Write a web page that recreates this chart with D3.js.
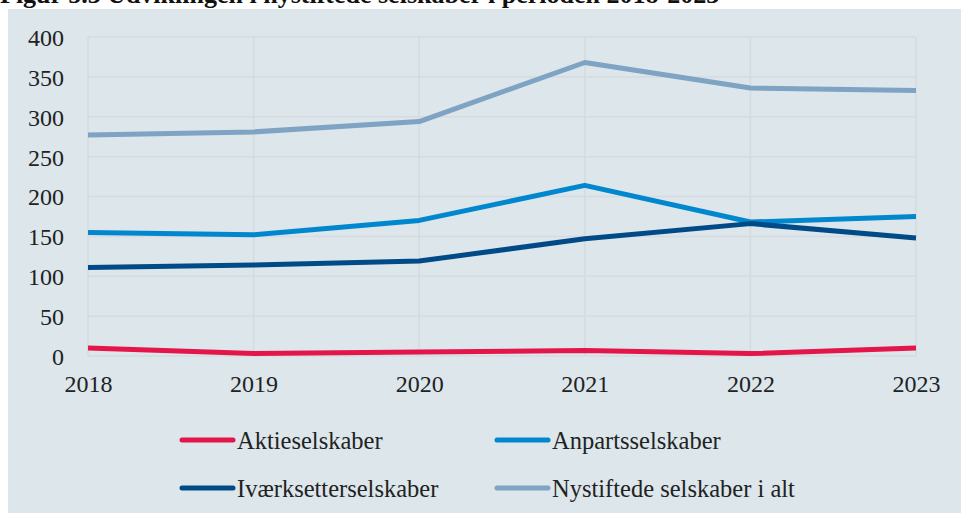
<!DOCTYPE html>
<html><head><meta charset="utf-8">
<script src="https://cdn.jsdelivr.net/npm/d3@7"></script>
<style>body{margin:0;background:#fff;}svg{display:block;}</style>
</head><body>
<svg id="c" width="961" height="514"></svg>
<script>
const years = ["2018","2019","2020","2021","2022","2023"];
const yTicks = [0,50,100,150,200,250,300,350,400];
const seriesNames = ["Aktieselskaber","Anpartsselskaber","Iværksetterselskaber","Nystiftede selskaber i alt"];
const aktie = [10, 3, 5, 7, 3, 10];
const anparts = [155, 152, 170, 214, 168, 175];
const ivaerk = [111, 114, 119, 147, 166, 148];
const nystiftede = [277, 281, 294, 368, 336, 333];
const colors = ["#e4154b", "#0087cd", "#004a87", "#7ea3c3"];
const title = "Figur 5.3 Udviklingen i nystiftede selskaber i perioden 2018-2023";

const svg = d3.select("#c");
const font = '"Liberation Serif"';

svg.append("rect").attr("x",8).attr("y",9).attr("width",953).attr("height",504).attr("fill","#dce6eb");
svg.append("text").attr("x",0).attr("y",3).style("font-family",font).style("font-size","26px")
  .attr("font-weight","bold").attr("fill","#111").text(title);

const x = d3.scalePoint().domain(years).range([88,916]);
const y = d3.scaleLinear().domain([0,400]).range([356,37]);

// grid
const g = svg.append("g");
g.selectAll("line.h").data(yTicks).join("line")
  .attr("x1",88).attr("x2",916).attr("y1",d=>y(d)).attr("y2",d=>y(d))
  .attr("stroke","#d5dbdf").attr("stroke-width",1.5);
g.selectAll("line.v").data(years).join("line")
  .attr("x1",d=>x(d)).attr("x2",d=>x(d)).attr("y1",y(400)).attr("y2",y(0))
  .attr("stroke","#d5dbdf").attr("stroke-width",1.5);

// axes
const yAxis = svg.append("g").attr("transform","translate(64,0)")
  .call(d3.axisLeft(y).tickValues(yTicks).tickSize(0).tickPadding(0));
yAxis.attr("font-family",null).attr("font-size",null);
yAxis.select(".domain").remove();
yAxis.selectAll("text").style("font-family",font).style("font-size","24px").attr("fill","#222").attr("dy","0.35em");

const xAxis = svg.append("g").attr("transform","translate(0,374)")
  .call(d3.axisBottom(x).tickSize(0).tickPadding(0));
xAxis.attr("font-family",null).attr("font-size",null);
xAxis.select(".domain").remove();
xAxis.selectAll("text").style("font-family",font).style("font-size","24px").attr("fill","#222").attr("dy","0.75em");

// lines
const data = [aktie, anparts, ivaerk, nystiftede];
const line = d3.line().x((d,i)=>x(years[i])).y(d=>y(d));
const drawOrder = [3,1,2,0];
svg.append("g").selectAll("path").data(drawOrder).join("path")
  .attr("d",i=>line(data[i])).attr("fill","none").attr("stroke",i=>colors[i])
  .attr("stroke-width",5).attr("stroke-linejoin","round");

// legend
const legPos = [[180,440],[495,440],[180,488],[495,488]];
const leg = svg.append("g").selectAll("g").data(seriesNames).join("g")
  .attr("transform",(d,i)=>`translate(${legPos[i][0]},${legPos[i][1]})`);
leg.append("line").attr("x1",2).attr("x2",53).attr("y1",0).attr("y2",0)
  .attr("stroke",(d,i)=>colors[i]).attr("stroke-width",5).attr("stroke-linecap","round");
leg.append("text").attr("x",57).attr("y",0).attr("dy","0.35em").style("font-family",font)
  .style("font-size","24.5px").attr("fill","#222").text(d=>d);
</script>
</body></html>
